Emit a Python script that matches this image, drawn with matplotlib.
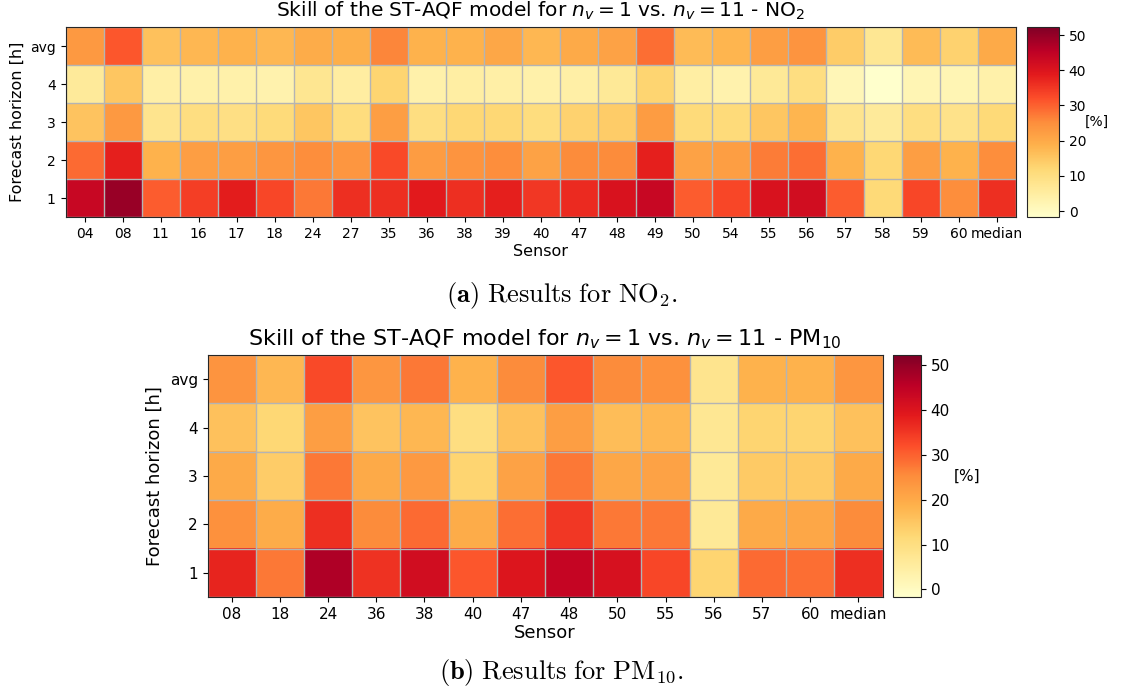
import numpy as np
import matplotlib
matplotlib.use("Agg")
import matplotlib.pyplot as plt

# ---- NO2 skill scores [%] per sensor and forecast horizon ----
no2_sensors = ["04", "08", "11", "16", "17", "18", "24", "27", "35", "36", "38", "39", "40",
               "47", "48", "49", "50", "54", "55", "56", "57", "58", "59", "60", "median"]
no2_h1 = [43.5, 49.5, 30.5, 34.0, 38.5, 33.0, 27.5, 36.0, 36.0, 38.8, 36.0, 38.0, 35.0,
          36.5, 40.5, 43.5, 30.5, 33.0, 40.5, 42.0, 30.5, 11.5, 33.0, 25.0, 36.0]
no2_h2 = [29.0, 38.0, 18.5, 22.0, 22.0, 23.5, 25.0, 23.5, 32.5, 22.5, 24.0, 25.0, 21.5,
          25.5, 25.5, 38.0, 21.5, 22.0, 27.0, 28.5, 18.5, 12.0, 22.0, 18.5, 25.0]
no2_h3 = [15.5, 23.0, 8.0, 10.0, 9.5, 11.0, 15.0, 10.5, 22.0, 10.0, 12.0, 12.0, 10.5,
          13.0, 14.0, 22.5, 11.0, 11.0, 15.0, 18.0, 8.0, 6.0, 10.0, 8.5, 11.5]
no2_h4 = [6.0, 15.0, 4.0, 3.5, 3.5, 3.0, 7.5, 5.0, 12.5, 3.5, 4.5, 4.0, 3.5,
          4.0, 6.5, 12.5, 4.5, 3.0, 6.5, 10.0, 1.5, -1.5, 2.0, 2.0, 3.5]
no2_avg = [23.0, 31.0, 16.0, 17.5, 18.5, 17.5, 19.5, 19.0, 26.0, 18.5, 18.5, 20.5, 17.5,
           20.0, 21.5, 28.5, 17.0, 18.0, 22.0, 24.0, 14.0, 7.0, 17.0, 13.0, 20.0]

# ---- PM10 skill scores [%] ----
pm_sensors = ["08", "18", "24", "36", "38", "40", "47", "48", "50", "55", "56", "57", "60", "median"]
pm_h1 = [37.5, 27.5, 47.0, 35.5, 42.0, 31.0, 40.0, 44.0, 41.0, 33.0, 12.5, 29.0, 28.5, 36.0]
pm_h2 = [24.5, 19.5, 36.0, 25.5, 29.0, 19.5, 28.5, 35.0, 27.5, 27.5, 6.5, 20.0, 20.5, 25.5]
pm_h3 = [20.0, 14.0, 27.5, 20.0, 23.0, 12.5, 21.5, 27.5, 20.5, 21.5, 6.5, 14.5, 14.5, 20.0]
pm_h4 = [16.0, 12.0, 22.0, 15.5, 17.5, 10.0, 16.0, 22.0, 16.5, 17.5, 7.0, 12.5, 12.5, 16.0]
pm_avg = [24.0, 17.5, 32.5, 23.5, 27.5, 18.5, 25.5, 31.0, 25.5, 24.5, 8.0, 18.5, 18.5, 23.5]

horizon_labels = ["1", "2", "3", "4", "avg"]
cbar_ticks = [0, 10, 20, 30, 40, 50]
vmin, vmax = -1.7, 52.3

W, H = 1129, 691
fig = plt.figure(figsize=(W / 100, H / 100), dpi=100)


def rect(x0, y0, x1, y1):
    """Pixel box (top-left origin) -> figure fraction rectangle."""
    return [x0 / W, 1 - y1 / H, (x1 - x0) / W, (y1 - y0) / H]


def panel(ax_box, cax_box, sensors, rows, title, fs_tick, fs_label, fs_title,
          title_pad, unit_x):
    data = np.array(rows)
    ax = fig.add_axes(rect(*ax_box))
    cax = fig.add_axes(rect(*cax_box))
    im = ax.imshow(data, cmap="YlOrRd", vmin=vmin, vmax=vmax, origin="lower",
                   aspect="auto", interpolation="nearest")
    ax.set_xticks(np.arange(len(sensors)))
    ax.set_xticklabels(sensors, fontsize=fs_tick)
    ax.set_yticks(np.arange(len(horizon_labels)))
    ax.set_yticklabels(horizon_labels, fontsize=fs_tick)
    ax.set_xticks(np.arange(-0.5, len(sensors), 1), minor=True)
    ax.set_yticks(np.arange(-0.5, len(horizon_labels), 1), minor=True)
    ax.grid(which="minor", color="#b4b4b4", linewidth=1.0)
    ax.tick_params(which="minor", length=0)
    for sp in ax.spines.values():
        sp.set_color("#262626")
    ax.set_xlabel("Sensor", fontsize=fs_label, labelpad=2)
    ax.set_ylabel("Forecast horizon [h]", fontsize=fs_label, labelpad=4)
    ax.set_title(title, fontsize=fs_title, pad=title_pad)
    cb = fig.colorbar(im, cax=cax, ticks=cbar_ticks)
    cb.ax.tick_params(labelsize=fs_tick)
    cb.outline.set_edgecolor("#262626")
    cax.text(unit_x, 0.5, "[%]", transform=cax.transAxes, fontsize=fs_tick,
             ha="center", va="center")
    return ax


panel((65.5, 27, 1016, 217), (1027, 27, 1059, 217), no2_sensors,
      [no2_h1, no2_h2, no2_h3, no2_h4, no2_avg],
      r"Skill of the ST-AQF model for $n_v = 1$ vs. $n_v = 11$ - NO$_2$",
      10, 11.5, 14.5, 7.5, 2.17)

panel((207.5, 355, 882.5, 597), (893, 355, 921, 597), pm_sensors,
      [pm_h1, pm_h2, pm_h3, pm_h4, pm_avg],
      r"Skill of the ST-AQF model for $n_v = 1$ vs. $n_v = 11$ - PM$_{10}$",
      11, 13, 16, 7.2, 2.65)

fig.text(562 / W, 1 - 302 / H, r"$\mathbf{(a)}\ \mathrm{Results\ for\ NO_2.}$",
         fontsize=19, ha="center", va="baseline", math_fontfamily="cm")
fig.text(561 / W, 1 - 679 / H, r"$\mathbf{(b)}\ \mathrm{Results\ for\ PM_{10}.}$",
         fontsize=19, ha="center", va="baseline", math_fontfamily="cm")

fig.savefig("out.png", dpi=100)
